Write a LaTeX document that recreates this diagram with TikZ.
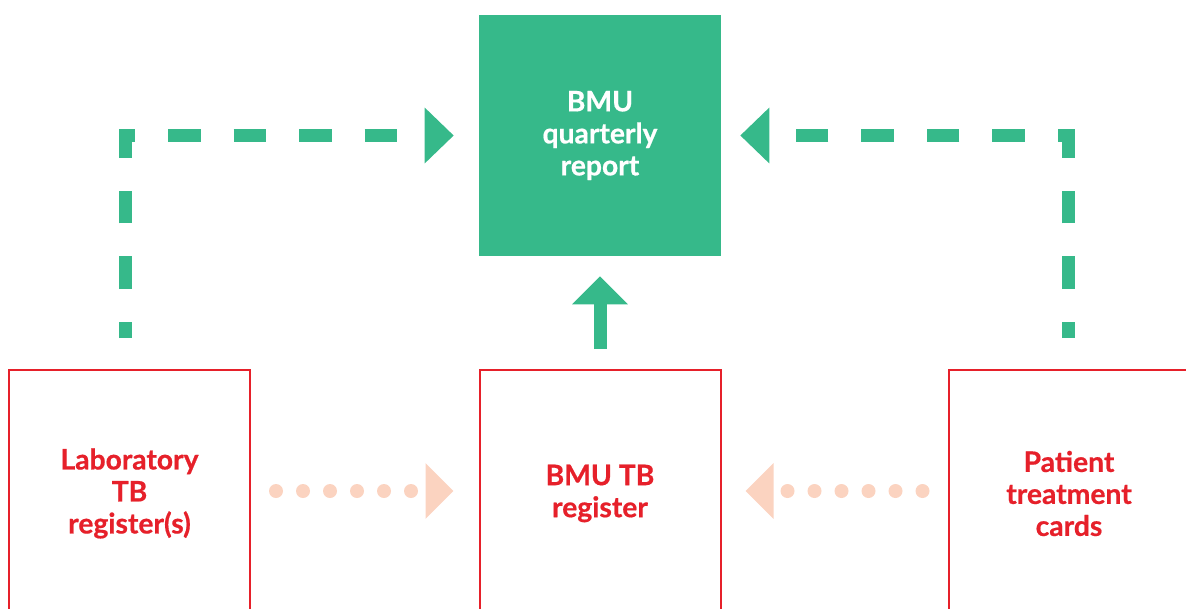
\documentclass[tikz,border=0pt]{standalone}
\usepackage{fontspec}
\setmainfont{Lato}
\newfontfamily\boxfont{Lato}[BoldFeatures={FakeBold=0.6}]
\usetikzlibrary{arrows.meta}

\definecolor{bmugreen}{RGB}{54,185,138}
\definecolor{bmured}{RGB}{230,32,42}
\definecolor{bmupeach}{RGB}{251,211,192}

\tikzset{
  reportbox/.style={fill=bmugreen, draw=none, minimum width=181.5pt, minimum height=180.75pt,
    text=white, font=\boxfont\bfseries\fontsize{21.2}{24}\selectfont, align=center},
  registerbox/.style={draw=bmured, line width=1.5pt, fill=white, minimum width=180.75pt, minimum height=185.25pt,
    text=bmured, font=\boxfont\bfseries\fontsize{21.2}{24}\selectfont, align=center},
  greendash/.style={draw=bmugreen, line width=9.75pt, dash pattern=on 24.4pt off 24.75pt, dash phase=12.4pt,
    -{Triangle[length=21.75pt,width=40.5pt]}},
  greensolid/.style={draw=bmugreen, line width=9.75pt, -{Triangle[length=21pt,width=40.5pt]}},
  peachdots/.style={draw=bmupeach, line width=10.5pt, line cap=round, dash pattern=on 0pt off 20.25pt,
    -{Triangle[length=21pt,width=40.5pt]}},
}

\begin{document}
\begin{tikzpicture}[x=0.75pt,y=0.75pt,yscale=-1,xscale=1]
	\clip (0,0) rectangle (1186,608);
	
	%Shape: Rectangle (report)
	\node[reportbox] (report) at (600,135.5) {BMU\\quarterly\\report};
	%Shape: Rectangle (registers)
	\node[registerbox] (lab) at (129.5,493.5) {Laboratory\\TB\\register(s)};
	\node[registerbox] (reg) at (600,493.5) {BMU TB\\register};
	\node[registerbox] (cards) at (1069,493.5) {Patient\\treatment\\cards};
	
	%Dashed Lines 
	\draw[greendash, shorten >=18.75pt] ([shift={(-4.5,-31)}]lab.north) |- (report.west);
	\draw[greendash, shorten >=14.25pt] ([shift={(-1,-31)}]cards.north) |- (report.east);
	%Straight Lines 
	\draw[greensolid, shorten >=15pt] ([shift={(0,-20)}]reg.north) -- (report.south);
	%Dotted Lines 
	\draw[peachdots, shorten <=18.75pt, shorten >=18.75pt] ([shift={(0,-2.5)}]lab.east) -- ([shift={(0,-2.5)}]reg.west);
	\draw[peachdots, shorten <=18.75pt, shorten >=18pt] ([shift={(0,-2.5)}]cards.west) -- ([shift={(0,-2.5)}]reg.east);
	
\end{tikzpicture}
\end{document}
